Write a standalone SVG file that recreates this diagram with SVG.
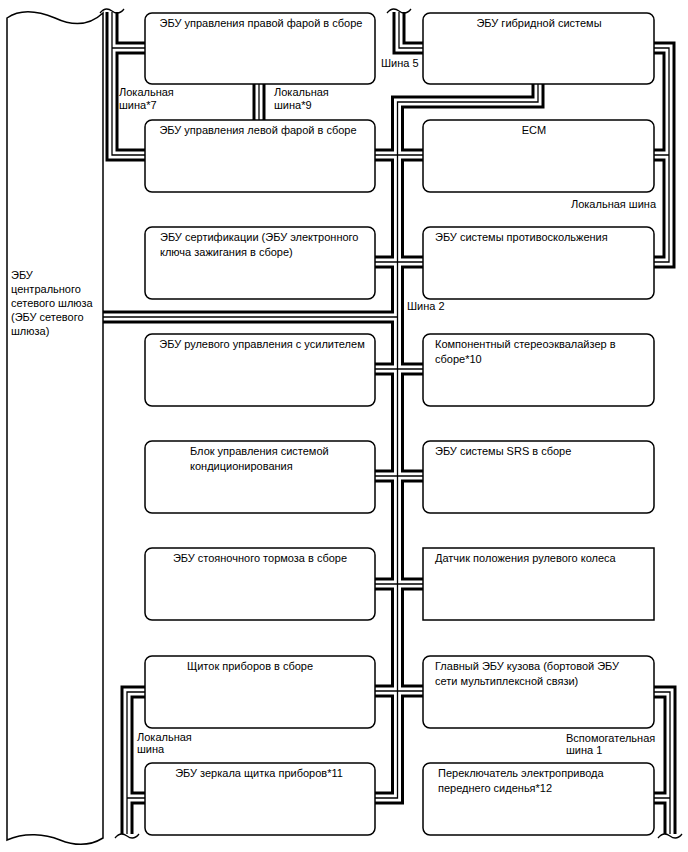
<svg xmlns="http://www.w3.org/2000/svg" xmlns:xlink="http://www.w3.org/1999/xlink" width="688" height="852" viewBox="0 0 688 852">
<style>
text{font-family:"Liberation Sans",Arial,sans-serif;font-size:11px;fill:#000}
.m{text-anchor:middle}
.box{fill:#fff;stroke:#000;stroke-width:1.5}
.b1{fill:none;stroke:#000;stroke-width:13;stroke-linejoin:miter}
.b2{fill:none;stroke:#fff;stroke-width:7;stroke-linejoin:miter}
.b3{fill:none;stroke:#000;stroke-width:1.3;stroke-linejoin:miter}
.brk{fill:none;stroke:#000;stroke-width:1.3}
</style>
<defs>
<path id="busMain" d="M538,84 V102 H397.5 V798 H375"/>
<path id="busMainB" d="M375,155 H423 M375,262 H423 M375,369 H423 M375,476 H423 M375,584 H423 M375,691 H423 M103,317 H397.5"/>
<path id="bus7" d="M112,12 V155 H145 M112,48 H145"/>
<path id="bus9" d="M259,84 V120"/>
<path id="bus5" d="M399,12 V48 H423"/>
<path id="busR" d="M654,48 H669 V262 H654 M669,155 H654"/>
<path id="busBL" d="M145,692 H127 V834 M127,798 H145"/>
<path id="busBR" d="M654,692 H670 V834 M670,798 H654"/>
</defs>

<g id="connectors">
<g class="b1"><use xlink:href="#busMain"/><use xlink:href="#busMainB"/><use xlink:href="#bus7"/><use xlink:href="#bus9"/><use xlink:href="#bus5"/><use xlink:href="#busR"/><use xlink:href="#busBL"/><use xlink:href="#busBR"/></g>
<g class="b2"><use xlink:href="#busMain"/><use xlink:href="#busMainB"/><use xlink:href="#bus7"/><use xlink:href="#bus9"/><use xlink:href="#bus5"/><use xlink:href="#busR"/><use xlink:href="#busBL"/><use xlink:href="#busBR"/></g>
<g class="b3"><use xlink:href="#busMain"/><use xlink:href="#busMainB"/><use xlink:href="#bus7"/><use xlink:href="#bus9"/><use xlink:href="#bus5"/><use xlink:href="#busR"/><use xlink:href="#busBL"/><use xlink:href="#busBR"/></g>
<path class="brk" d="M100,13 C104,8 108,8 112,11 S120,14 124,9"/>
<path class="brk" d="M387,13 C391,8 395,8 399,11 S407,14 411,9"/>
<path class="brk" d="M115,838 C119,833 123,833 127,836 S135,839 139,834"/>
<path class="brk" d="M658,838 C662,833 666,833 670,836 S678,839 682,834"/>
<text x="119" y="96">Локальная</text>
<text x="119" y="109">шина*7</text>
<text x="274" y="96">Локальная</text>
<text x="274" y="109">шина*9</text>
<text x="381" y="67">Шина 5</text>
<text x="656" y="208" text-anchor="end">Локальная шина</text>
<text x="407" y="310">Шина 2</text>
<text x="137" y="741">Локальная</text>
<text x="137" y="753">шина</text>
<text x="566" y="742">Вспомогательная</text>
<text x="566" y="754">шина 1</text>
</g>

<g id="gateway">
<path class="box" d="M7,18 C20,9 38,11 55,18 C70,25 88,27 103,13 L103,838 C90,846 75,846 60,840 C45,834 25,832 7,840 Z"/>
<text x="11" y="279">ЭБУ</text>
<text x="11" y="293">центрального</text>
<text x="11" y="307">сетевого шлюза</text>
<text x="11" y="321">(ЭБУ сетевого</text>
<text x="11" y="335">шлюза)</text>
</g>

<g id="right-headlamp"><rect class="box" x="145" y="13" width="230" height="71" rx="7"/><text class="m" x="261" y="27">ЭБУ управления правой фарой в сборе</text></g>
<g id="left-headlamp"><rect class="box" x="145" y="120" width="230" height="72" rx="7"/><text class="m" x="258" y="134">ЭБУ управления левой фарой в сборе</text></g>
<g id="certification"><rect class="box" x="145" y="227" width="230" height="72" rx="7"/><text x="160" y="241">ЭБУ сертификации (ЭБУ электронного</text><text x="160" y="256">ключа зажигания в сборе)</text></g>
<g id="power-steering"><rect class="box" x="145" y="334" width="230" height="72" rx="7"/><text class="m" x="262" y="348">ЭБУ рулевого управления с усилителем</text></g>
<g id="climate"><rect class="box" x="145" y="441" width="230" height="72" rx="7"/><text x="190" y="455">Блок управления системой</text><text x="190" y="470">кондиционирования</text></g>
<g id="parking-brake"><rect class="box" x="145" y="548" width="230" height="72" rx="7"/><text class="m" x="260" y="562">ЭБУ стояночного тормоза в сборе</text></g>
<g id="cluster"><rect class="box" x="145" y="656" width="230" height="72" rx="7"/><text class="m" x="250" y="670">Щиток приборов в сборе</text></g>
<g id="mirror"><rect class="box" x="145" y="763" width="230" height="72" rx="7"/><text class="m" x="259" y="777">ЭБУ зеркала щитка приборов*11</text></g>

<g id="hybrid"><rect class="box" x="423" y="13" width="231" height="71" rx="7"/><text class="m" x="539" y="27">ЭБУ гибридной системы</text></g>
<g id="ecm"><rect class="box" x="423" y="120" width="231" height="72" rx="7"/><text class="m" x="534" y="134">ECM</text></g>
<g id="anti-skid"><rect class="box" x="423" y="227" width="231" height="72" rx="7"/><text x="435" y="241">ЭБУ системы противоскольжения</text></g>
<g id="stereo"><rect class="box" x="423" y="334" width="231" height="72" rx="7"/><text x="435" y="348">Компонентный стереоэквалайзер в</text><text x="435" y="363">сборе*10</text></g>
<g id="srs"><rect class="box" x="423" y="441" width="231" height="72" rx="7"/><text x="435" y="455">ЭБУ системы SRS в сборе</text></g>
<g id="steering-sensor"><rect class="box" x="423" y="548" width="231" height="72"/><text x="435" y="562">Датчик положения рулевого колеса</text></g>
<g id="body-ecu"><rect class="box" x="423" y="656" width="231" height="72" rx="7"/><text x="435" y="670">Главный ЭБУ кузова (бортовой ЭБУ</text><text x="435" y="685">сети мультиплексной связи)</text></g>
<g id="seat-switch"><rect class="box" x="423" y="763" width="231" height="72" rx="7"/><text x="438" y="777">Переключатель электропривода</text><text x="438" y="792">переднего сиденья*12</text></g>
</svg>
